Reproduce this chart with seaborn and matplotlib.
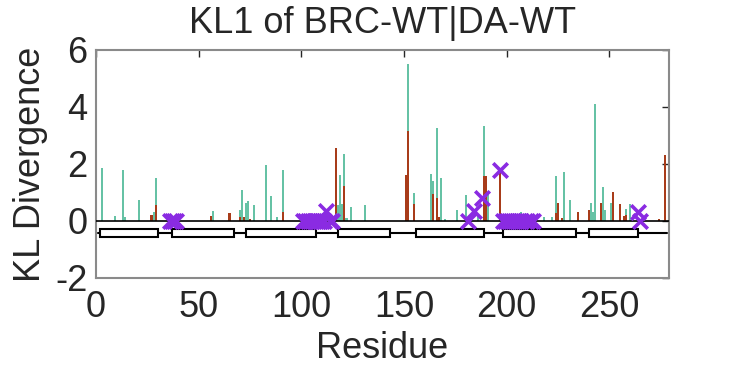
import numpy as np
import pandas as pd
import matplotlib
matplotlib.use("Agg")
import matplotlib.pyplot as plt
from matplotlib.patches import Rectangle
import seaborn as sns

# KL divergence per residue, two components
res_green = [3, 9, 13, 14, 21, 28, 29, 57, 70, 71, 73, 74, 77, 83, 85, 88, 91,
             118, 119, 120, 121, 122, 124, 131, 152, 155, 163, 164, 166, 168, 170,
             176, 180, 186, 189, 191, 207, 218, 222, 224, 228, 231, 241, 242, 243,
             247, 248, 251, 258, 260]
kl_green = [1.85, 0.16, 1.79, 0.14, 0.74, 0.30, 1.51, 0.36, 0.37, 1.08, 0.64, 0.69, 0.55, 1.96, 0.88, 0.14, 1.78,
            0.56, 1.61, 0.60, 2.35, 0.10, 0.50, 0.55, 5.50, 0.99, 1.65, 1.40, 3.26, 1.50, 0.07,
            0.39, 0.91, 0.21, 3.33, 0.94, 0.30, 0.12, 0.15, 1.58, 1.73, 0.75, 0.63, 0.30, 4.10,
            1.20, 0.37, 0.62, 0.40, 0.58]

res_red = [27, 29, 56, 65, 70, 72, 75, 91, 117, 121, 151, 152, 155, 164, 166, 167,
           189, 190, 197, 224, 225, 227, 235, 240, 246, 252, 255, 257, 258, 274, 277]
kl_red = [0.21, 0.56, 0.16, 0.29, 0.14, 0.12, 0.07, 0.30, 2.56, 1.22, 1.61, 3.16, 0.60, 0.96, 0.81, 0.15,
          1.58, 1.58, 1.79, 0.26, 0.63, 0.09, 0.32, 0.39, 0.62, 1.03, 0.61, 0.16, 0.19, 0.06, 2.33]

# marked residues
mark_res = [36, 37, 38, 39, 101, 102, 103, 104, 105, 106, 107, 108, 109, 110, 111, 112, 114, 115,
            181, 184, 188, 197, 198, 199, 200, 201, 202, 203, 205, 206, 207, 209, 210, 212, 213, 264, 265]
mark_kl = [0, 0, 0, 0, 0, 0, 0, 0, 0, 0, 0, 0, 0, 0, 0, 0.33, 0, 0,
           0, 0.33, 0.82, 1.79, 0, 0, 0, 0, 0, 0, 0, 0, 0, 0, 0, 0, 0, 0.30, 0]

# helices (secondary structure)
helix_start = [2, 37, 73, 118, 156, 198, 240]
helix_end = [30, 67, 107, 143, 189, 234, 264]
chain_start, chain_end = 1, 278

sns.set_style("white")
plt.rcParams['font.family'] = ['Liberation Sans', 'DejaVu Sans']

green = '#66c2a5'
red = '#a83c1a'
purple = '#8a2be2'
txt = '#262626'

fig = plt.figure(figsize=(7.39, 3.70), dpi=100)
ax = fig.add_axes([0.130, 0.249, 0.775, 0.616])

dg = pd.DataFrame({'Residue': res_green, 'KL': kl_green})
dr = pd.DataFrame({'Residue': res_red, 'KL': kl_red})
sns.barplot(data=dg, x='Residue', y='KL', native_scale=True, color=green, saturation=1,
            width=1.0, errorbar=None, linewidth=0, ax=ax)
sns.barplot(data=dr, x='Residue', y='KL', native_scale=True, color=red, saturation=1,
            width=1.0, errorbar=None, linewidth=0, ax=ax)

ax.axhline(0, color='black', linewidth=1.2, zorder=3)
ax.plot([chain_start, chain_end], [-0.42, -0.42], color='black', linewidth=1.5, zorder=3)
for s, e in zip(helix_start, helix_end):
    ax.add_patch(Rectangle((s, -0.56), e - s, 0.28, facecolor='white', edgecolor='black',
                           linewidth=1.5, zorder=4))

sns.scatterplot(x=mark_res, y=mark_kl, marker='x', s=110, color=purple, linewidth=2.6, zorder=5, ax=ax)

ax.set_xlim(0, 279)
ax.set_ylim(-2, 6)
ax.set_xticks([0, 50, 100, 150, 200, 250])
ax.set_xticklabels(['0', '50', '100', '150', '200', '250'])
ax.set_yticks([-2, 0, 2, 4, 6])
ax.set_yticklabels(['-2', '0', '2', '4', '6'])
ax.tick_params(direction='in', length=5, width=1, colors=txt, labelsize=26, top=True, right=True,
               labelcolor=txt)
ax.tick_params(axis='x', pad=9)
ax.tick_params(axis='y', pad=6)
for sp in ax.spines.values():
    sp.set_color('#8a8a8a')
    sp.set_linewidth(1.5)
ax.set_xlabel('Residue', fontsize=26, color=txt, labelpad=4)
ax.set_ylabel('KL Divergence', fontsize=26, color=txt, labelpad=5)
ax.set_title('KL1 of BRC-WT|DA-WT', fontsize=26, color=txt, pad=12)

plt.savefig('out.png', dpi=100)
plt.close()
